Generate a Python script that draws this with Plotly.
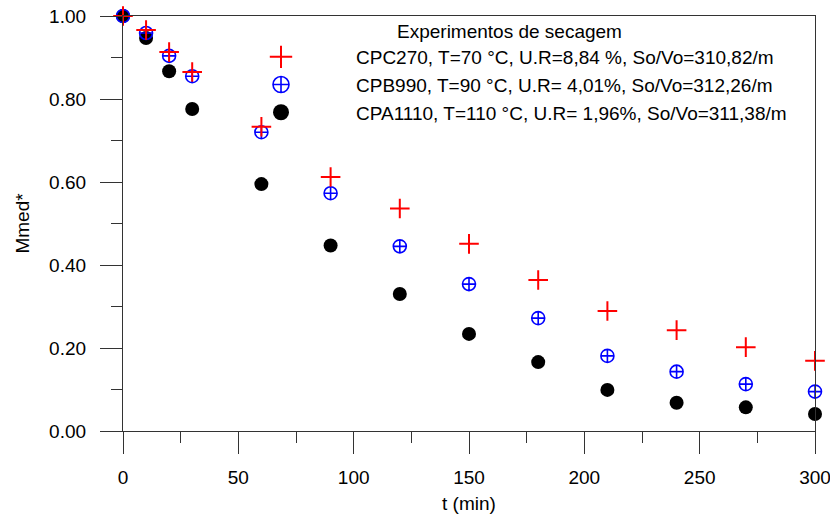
import plotly.graph_objects as go

t_min = [0, 10, 20, 30, 60, 90, 120, 150, 180, 210, 240, 270, 300]
cpc270 = [1.00, 0.966, 0.913, 0.865, 0.733, 0.612, 0.536, 0.451, 0.364, 0.289, 0.243, 0.202, 0.169]
cpb990 = [1.00, 0.959, 0.904, 0.855, 0.720, 0.573, 0.445, 0.354, 0.272, 0.181, 0.143, 0.113, 0.095]
cpa1110 = [1.00, 0.947, 0.867, 0.776, 0.595, 0.447, 0.330, 0.234, 0.166, 0.099, 0.068, 0.057, 0.041]

names = [
    "CPC270, T=70 °C, U.R=8,84 %, So/Vo=310,82/m",
    "CPB990, T=90 °C, U.R= 4,01%, So/Vo=312,26/m",
    "CPA1110, T=110 °C, U.R= 1,96%, So/Vo=311,38/m",
]
legend_title = "Experimentos de secagem"
x_title = "t (min)"
y_title = "Mmed*"

FONT = "Arial, Liberation Sans, sans-serif"
RED, BLUE, BLACK = "#ff0000", "#0000ff", "#000000"

styles = {
    "cpa": dict(symbol="circle", color=BLACK, line=dict(width=0)),
    "cpb": dict(symbol="circle-cross-open", color=BLUE, line=dict(width=1.6, color=BLUE)),
    "cpc": dict(symbol="cross-thin-open", color=RED, line=dict(width=2, color=RED)),
}
data_sizes = {"cpa": 14, "cpb": 13, "cpc": 14}

fig = go.Figure()
# data (drawing order: black, blue, red on top)
for key, ys in (("cpa", cpa1110), ("cpb", cpb990), ("cpc", cpc270)):
    fig.add_trace(go.Scatter(
        x=t_min, y=ys, mode="markers", showlegend=False,
        marker=dict(size=data_sizes[key], **styles[key]),
        cliponaxis=False, hoverinfo="x+y",
    ))
# legend-only entries with larger symbols
for key, nm in (("cpc", names[0]), ("cpb", names[1]), ("cpa", names[2])):
    fig.add_trace(go.Scatter(
        x=[None], y=[None], mode="markers", name=nm, showlegend=True,
        marker=dict(size=18, **styles[key]),
    ))

axis_common = dict(
    showgrid=False, zeroline=False, showline=True, linecolor="#333333", linewidth=1.3,
    mirror=True, ticks="outside", ticklen=22, tickwidth=1.3, tickcolor="#333333",
    tickfont=dict(family=FONT, size=19, color="black"),
    ticklabeloverflow="allow",
)

fig.update_xaxes(
    **axis_common, range=[0, 300], tick0=0, dtick=50,
    minor=dict(ticks="outside", ticklen=11, tickwidth=1.3, tickcolor="#333333", dtick=25),
    ticklabelstandoff=7,
)
fig.update_yaxes(
    **axis_common, range=[0, 1], tick0=0, dtick=0.2, tickformat=".2f",
    minor=dict(ticks="outside", ticklen=11, tickwidth=1.3, tickcolor="#333333", dtick=0.1),
    ticklabelstandoff=10,
    title=dict(text=y_title, font=dict(family=FONT, size=19, color="black"), standoff=14),
)

fig.add_annotation(
    text=x_title, xref="paper", yref="paper", x=0.5, y=-72 / 415,
    xanchor="center", yanchor="middle", showarrow=False,
    font=dict(family=FONT, size=19, color="black"),
)
fig.add_annotation(
    text=legend_title, xref="paper", yref="paper", x=(509 - 123) / 692, y=1 - 15 / 415,
    xanchor="center", yanchor="middle", showarrow=False,
    font=dict(family=FONT, size=19, color="black"),
)

fig.update_layout(
    width=830, height=518,
    margin=dict(l=123, r=15, t=16, b=87, autoexpand=False),
    paper_bgcolor="white", plot_bgcolor="white",
    showlegend=True,
    legend=dict(
        x=83 / 692, y=0.947, xanchor="left", yanchor="top",
        bgcolor="rgba(0,0,0,0)", borderwidth=0,
        font=dict(family=FONT, size=19, color="black"),
        itemwidth=140, itemsizing="trace",
    ),
    font=dict(family=FONT, size=19, color="black"),
)

# remove the page's default body margin so the 830x518 figure fills the window exactly
fig.write_html(
    "out.html",
    config={"displayModeBar": False},
    post_script="document.body.style.margin='0';",
)
